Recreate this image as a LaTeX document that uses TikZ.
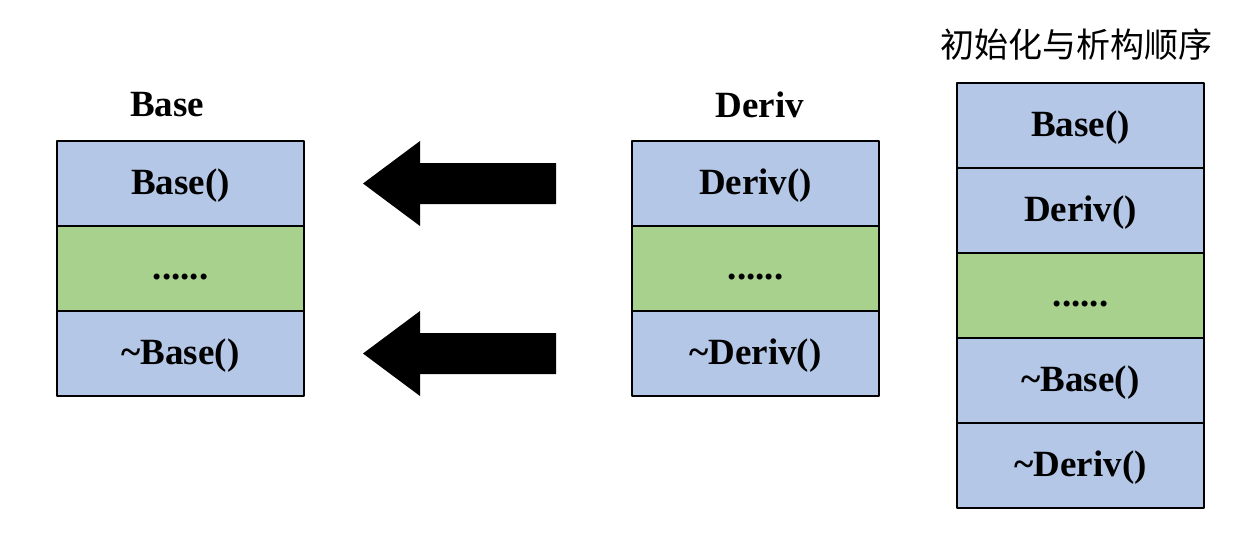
\documentclass[tikz,border=0pt]{standalone}
\usepackage{fontspec}
\setmainfont{Liberation Serif}
\newfontfamily\cjk{Noto Sans CJK SC}
\usetikzlibrary{positioning}
\definecolor{cellblue}{RGB}{180,199,231}
\definecolor{cellgreen}{RGB}{169,209,142}
\tikzset{
  cell/.style={draw, line width=1pt, minimum width=123.5pt, minimum height=42.5pt,
    inner sep=0pt, outer sep=0pt, text height=12pt, text depth=1.5pt,
    font=\fontsize{18.5}{22}\selectfont\bfseries},
  bluecell/.style={cell, fill=cellblue},
  greencell/.style={cell, fill=cellgreen},
  heading/.style={font=\fontsize{18.5}{22}\selectfont\bfseries}
}
\begin{document}
\begin{tikzpicture}[x=0.5pt, y=-0.5pt, line join=round]
\useasboundingbox (0,0) rectangle (1234,554);
% Base
\node[heading] (basetitle) at (167,105) {Base};
\node[bluecell] (b1) at (180.5,183.5) {Base()};
\node[greencell, below=0pt of b1] (b2) {......};
\node[bluecell, below=0pt of b2] (b3) {\textasciitilde Base()};
% Deriv
\node[heading] (derivtitle) at (760,105) {Deriv};
\node[bluecell] (d1) at (755.5,183.5) {Deriv()};
\node[greencell, below=0pt of d1] (d2) {......};
\node[bluecell, below=0pt of d2] (d3) {\textasciitilde Deriv()};
% order
\node[font=\cjk\fontsize{17}{20}\selectfont] (ordertitle) at (1076,45) {初始化与析构顺序};
\node[bluecell] (o1) at (1080.5,125.5) {Base()};
\node[bluecell, below=0pt of o1] (o2) {Deriv()};
\node[greencell, below=0pt of o2] (o3) {......};
\node[bluecell, below=0pt of o3] (o4) {\textasciitilde Base()};
\node[bluecell, below=0pt of o4] (o5) {\textasciitilde Deriv()};
% arrows
\foreach \y in {183.5,353.5}
  \fill (363,\y) -- (420,\y-42.5) -- (420,\y-20.5) -- (556,\y-20.5)
    -- (556,\y+20.5) -- (420,\y+20.5) -- (420,\y+42.5) -- cycle;
\end{tikzpicture}
\end{document}
